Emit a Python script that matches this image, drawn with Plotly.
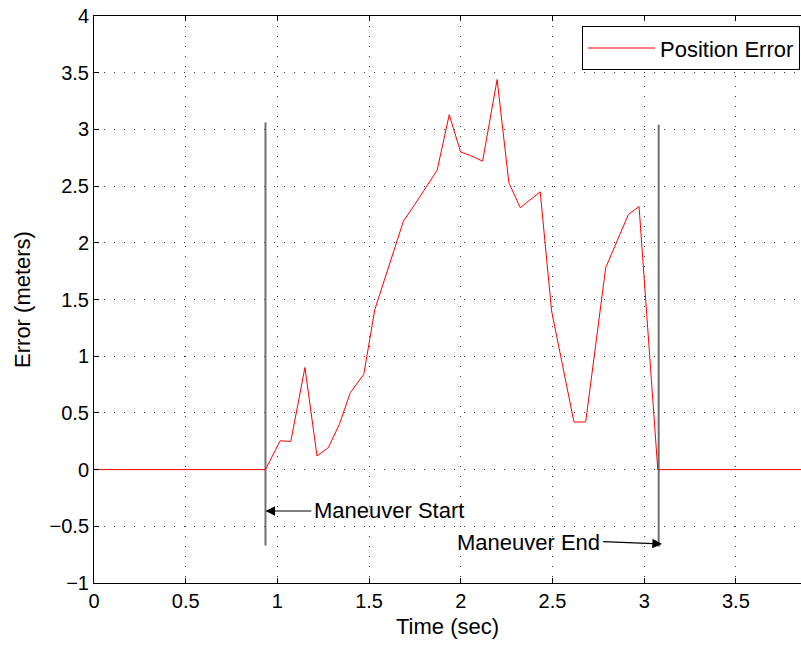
import plotly.graph_objects as go

# Position error trace
time_s = [0, 0.935, 1.015, 1.073, 1.15, 1.216, 1.278, 1.338, 1.398, 1.471,
          1.531, 1.687, 1.75, 1.813, 1.871, 1.937, 1.999, 2.053, 2.119, 2.198,
          2.262, 2.324, 2.433, 2.495, 2.617, 2.681, 2.79, 2.914, 2.972, 3.074,
          3.855]
error_m = [0, 0, 0.254, 0.248, 0.90, 0.12, 0.195, 0.40, 0.68, 0.84,
           1.41, 2.19, 2.34, 2.50, 2.64, 3.13, 2.80, 2.77, 2.72, 3.44,
           2.53, 2.31, 2.45, 1.40, 0.42, 0.42, 1.78, 2.25, 2.32, 0,
           0]

# Maneuver marker lines (time, bottom, top)
start_t, start_lo, start_hi = 0.935, -0.67, 3.06
end_t, end_lo, end_hi = 3.079, -0.68, 3.04

x_ticks = [0, 0.5, 1, 1.5, 2, 2.5, 3, 3.5]
y_ticks = [-1, -0.5, 0, 0.5, 1, 1.5, 2, 2.5, 3, 3.5, 4]
y_tick_text = ["\u22121", "\u22120.5", "0", "0.5", "1", "1.5", "2", "2.5", "3", "3.5", "4"]

FONT = "Liberation Sans, Arial, Helvetica, sans-serif"
GRAY = "#6f6f6f"

fig = go.Figure()

fig.add_trace(go.Scatter(
    x=[start_t, start_t], y=[start_lo, start_hi], mode="lines",
    line=dict(color=GRAY, width=2), showlegend=False, hoverinfo="skip"))
fig.add_trace(go.Scatter(
    x=[end_t, end_t], y=[end_lo, end_hi], mode="lines",
    line=dict(color=GRAY, width=2), showlegend=False, hoverinfo="skip"))

fig.add_trace(go.Scatter(
    x=time_s, y=error_m, mode="lines", name="Position Error",
    line=dict(color="#ff0000", width=1)))

# Arrow annotations
fig.add_annotation(x=start_t, y=-0.365, ax=1.193, ay=-0.365,
                   xref="x", yref="y", axref="x", ayref="y",
                   text="", showarrow=True, arrowhead=2, arrowsize=1.6,
                   arrowwidth=1.2, arrowcolor="black")
fig.add_annotation(x=1.19, y=-0.36, xref="x", yref="y", text="Maneuver Start",
                   showarrow=False, xanchor="left", yanchor="middle",
                   font=dict(family=FONT, size=22, color="black"))

fig.add_annotation(x=3.097, y=-0.655, ax=2.768, ay=-0.635,
                   xref="x", yref="y", axref="x", ayref="y",
                   text="", showarrow=True, arrowhead=2, arrowsize=1.6,
                   arrowwidth=1.2, arrowcolor="black")
fig.add_annotation(x=2.772, y=-0.64, xref="x", yref="y", text="Maneuver End",
                   showarrow=False, xanchor="right", yanchor="middle",
                   font=dict(family=FONT, size=22, color="black"))

grid = dict(showgrid=True, gridcolor="#333333", gridwidth=1, griddash="1px,9px",
            zeroline=False, showline=True, linecolor="black", linewidth=1,
            ticks="inside", ticklen=5, tickcolor="black",
            tickfont=dict(family=FONT, size=20, color="black"))

fig.update_xaxes(range=[0, 3.855], tickvals=x_ticks,
                 ticktext=[str(v) for v in x_ticks], mirror="ticks",
                 title=dict(text="Time (sec)", standoff=7,
                            font=dict(family=FONT, size=22, color="black")),
                 **grid)
fig.update_yaxes(range=[-1, 4], tickvals=y_ticks, ticktext=y_tick_text,
                 title=dict(text="Error (meters)", standoff=12,
                            font=dict(family=FONT, size=22, color="black")),
                 **grid)

fig.update_layout(
    width=801, height=645,
    margin=dict(l=94, r=0, t=16, b=62),
    paper_bgcolor="white", plot_bgcolor="white",
    showlegend=True,
    legend=dict(x=0.9986, y=0.982, xanchor="right", yanchor="top",
                bgcolor="white", bordercolor="black", borderwidth=1,
                font=dict(family=FONT, size=22, color="black"),
                itemwidth=67, tracegroupgap=0),
)

fig.write_html("out.html")
